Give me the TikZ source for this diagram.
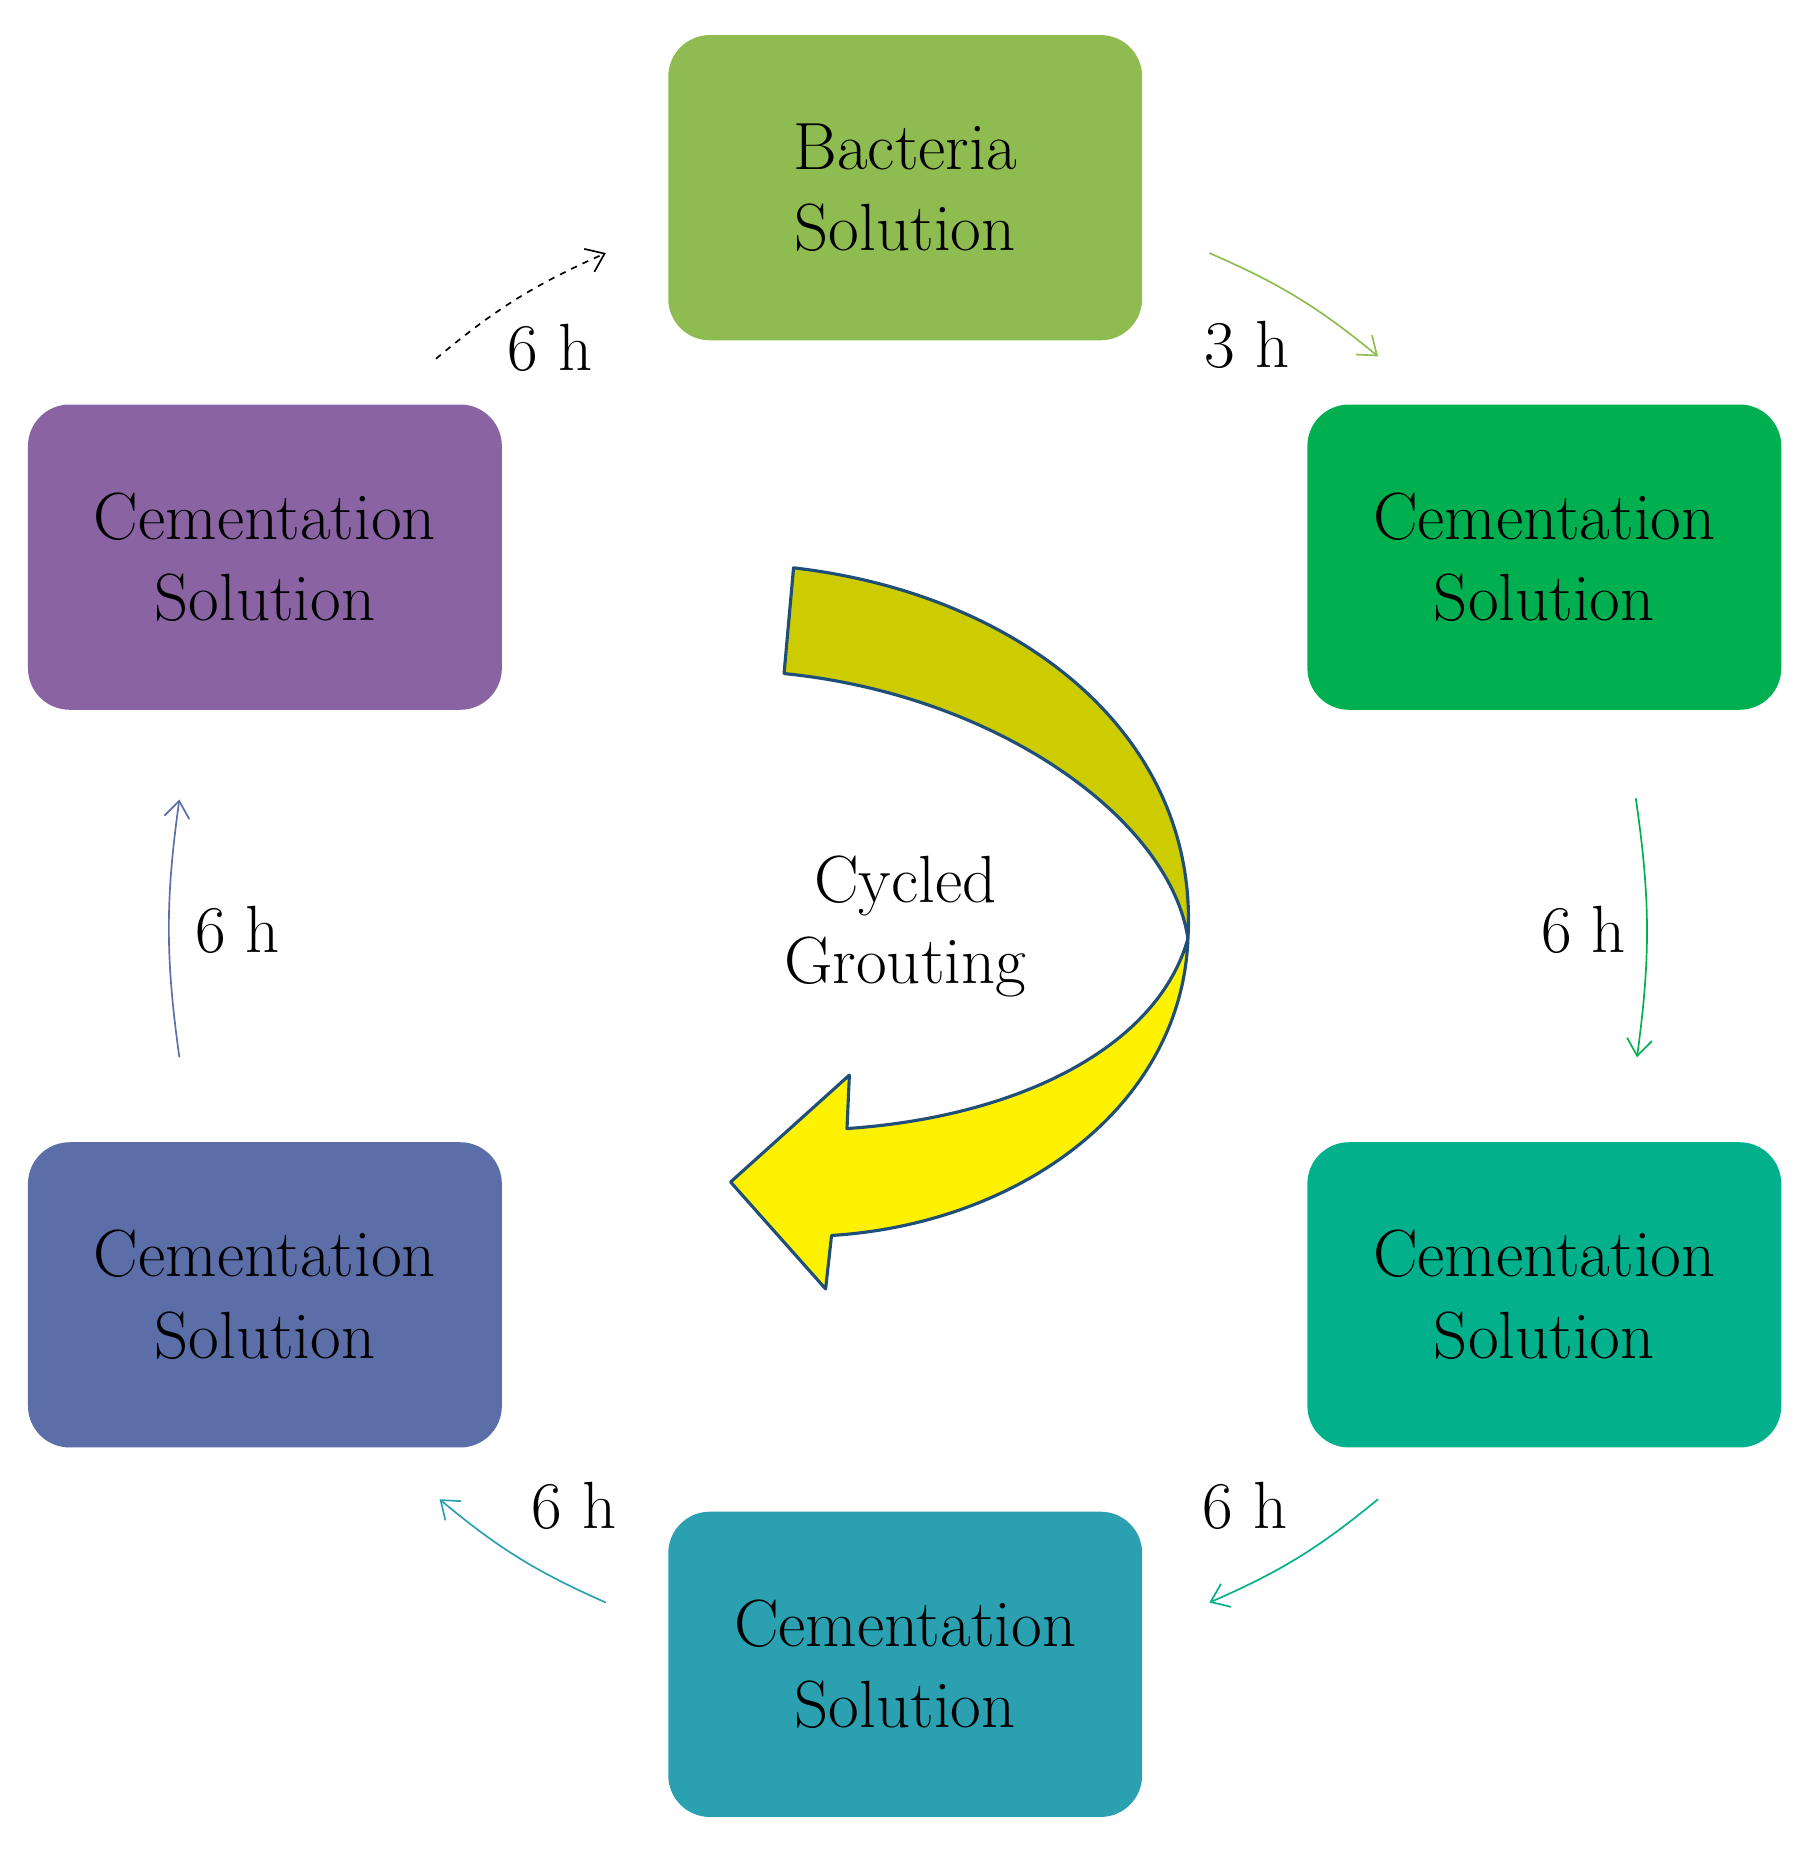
\documentclass[tikz,border=0pt]{standalone}
\usetikzlibrary{arrows.meta}
\definecolor{cA}{RGB}{143,188,80}
\definecolor{cB}{RGB}{0,176,80}
\definecolor{cC}{RGB}{2,176,140}
\definecolor{cD}{RGB}{42,160,176}
\definecolor{cE}{RGB}{92,110,168}
\definecolor{cF}{RGB}{138,99,163}
\definecolor{edge}{RGB}{31,78,121}
\begin{document}
\begin{tikzpicture}[x=0.02cm,y=-0.02cm,
 box/.style={rounded corners=0.7cm,minimum width=7.98cm,minimum height=5.14cm,align=center,font=\fontsize{32}{39}\selectfont,inner sep=0pt},
 lab/.style={font=\fontsize{32}{39}\selectfont},
 con/.style={-{Straight Barb[length=8pt,width=12pt]},line width=0.8pt}]
\useasboundingbox (0,0) rectangle (1530,1575);
\node[box,fill=cA] (b) at (762,158) {Bacteria\\Solution};
\node[box,fill=cB] (c1) at (1300,469) {Cementation\\Solution};
\node[box,fill=cC] (c2) at (1300,1090) {Cementation\\Solution};
\node[box,fill=cD] (c3) at (762,1401) {Cementation\\Solution};
\node[box,fill=cE] (c4) at (223,1090) {Cementation\\Solution};
\node[box,fill=cF] (c5) at (223,469) {Cementation\\Solution};
\coordinate (a1) at (367,302); \coordinate (a2) at (510,213);
\coordinate (b1) at (1018,213); \coordinate (b2) at (1160,300);
\coordinate (d1) at (1377,672); \coordinate (d2) at (1378,890);
\coordinate (e1) at (1160,1262); \coordinate (e2) at (1018,1349);
\coordinate (f1) at (510,1349); \coordinate (f2) at (370,1262);
\coordinate (g1) at (151,890); \coordinate (g2) at (151,673);
\draw[con,dashed,black] (a1) to[bend left=8] (a2);
\draw[con,cA] (b1) to[bend left=8] (b2);
\draw[con,cB] (d1) to[bend left=8] (d2);
\draw[con,cC] (e1) to[bend left=8] (e2);
\draw[con,cD] (f1) to[bend left=8] (f2);
\draw[con,cE] (g1) to[bend left=8] (g2);
\node[lab] (l1) at (463,293) {6 h};
\node[lab] (l2) at (1050,290) {3 h};
\node[lab] (l3) at (1333,783) {6 h};
\node[lab] (l4) at (1048,1268) {6 h};
\node[lab] (l5) at (483,1268) {6 h};
\node[lab] (l6) at (200,783) {6 h};
\draw[edge,line width=1.5pt,fill={rgb,255:red,204;green,204;blue,0},line join=round]
 (668,478) .. controls (860,500) and (1010,620) .. (1000,790)
 .. controls (985,690) and (840,585) .. (660,567) -- cycle;
\draw[edge,line width=1.5pt,fill=yellow,line join=round]
 (1000,790) .. controls (995,930) and (860,1030) .. (700,1040) -- (695,1085) -- (615,995) -- (715,905) -- (713,950)
 .. controls (860,940) and (975,880) .. (1000,790) -- cycle;
\node[lab,align=center] (cg) at (762,780) {Cycled\\Grouting};
\end{tikzpicture}
\end{document}
